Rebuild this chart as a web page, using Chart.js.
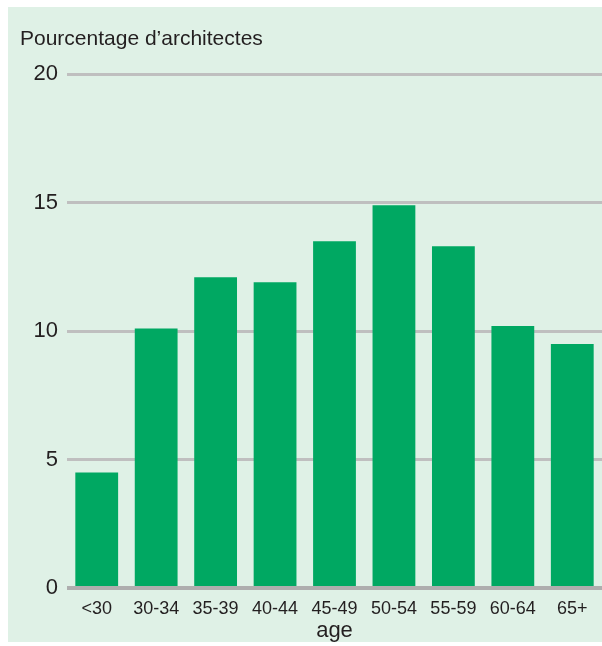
<!DOCTYPE html>
<html>
<head>
<meta charset="utf-8">
<script src="https://cdn.jsdelivr.net/npm/chart.js@4/dist/chart.umd.min.js"></script>
<style>
html,body{margin:0;padding:0;background:#fff;}
#wrap{width:602px;height:646px;position:relative;}
</style>
</head>
<body>
<div id="wrap"><canvas id="c" width="602" height="646"></canvas></div>
<script>
const categories = ["<30","30-34","35-39","40-44","45-49","50-54","55-59","60-64","65+"];
const percentages = [4.5, 10.1, 12.1, 11.9, 13.5, 14.9, 13.3, 10.2, 9.5];
const yTicks = [0, 5, 10, 15, 20];
const yTitle = "Pourcentage d\u2019architectes";
const xTitle = "age";

const FONT = "'Liberation Sans', Arial, Helvetica, sans-serif";
const TEXT = "#231f20";

const panelBg = {
  id: 'panelBg',
  beforeDraw(chart) {
    const ctx = chart.ctx;
    ctx.save();
    ctx.fillStyle = '#dff1e6';
    ctx.fillRect(8, 7, chart.width - 8, chart.height - 11);
    ctx.restore();
  }
};

new Chart(document.getElementById('c'), {
  type: 'bar',
  data: {
    labels: categories,
    datasets: [{
      data: percentages,
      backgroundColor: '#00a862',
      borderWidth: 0,
      barPercentage: 0.72,
      categoryPercentage: 1.0
    }]
  },
  options: {
    responsive: false,
    animation: false,
    devicePixelRatio: 1,
    layout: { padding: { left: 20, right: 0, top: 0, bottom: 2 } },
    plugins: {
      legend: { display: false },
      tooltip: { enabled: false },
      title: {
        display: true,
        text: yTitle,
        align: 'start',
        color: TEXT,
        font: { family: FONT, size: 21, weight: 'normal', lineHeight: 1.2 },
        padding: { top: 27, bottom: 22 }
      }
    },
    scales: {
      x: {
        grid: { display: false, drawTicks: false },
        border: { display: false },
        ticks: { color: TEXT, font: { family: FONT, size: 18 }, padding: 10, maxRotation: 0, autoSkip: false },
        title: { display: true, text: xTitle, color: TEXT, font: { family: FONT, size: 22, lineHeight: 1.2 }, padding: { top: 0, bottom: 0 } },
        afterFit(scale) { scale.height = 56; }
      },
      y: {
        min: 0,
        max: 20,
        afterBuildTicks(scale) { scale.ticks = yTicks.map(v => ({ value: v })); },
        grid: {
          drawTicks: false,
          color: ctx => ctx.tick && ctx.tick.value === 0 ? '#aeaeae' : '#bfbfbf',
          lineWidth: ctx => ctx.tick && ctx.tick.value === 0 ? 4 : 3
        },
        border: { display: false },
        ticks: { color: TEXT, font: { family: FONT, size: 22 }, padding: 9 },
        afterFit(scale) { scale.width = 47; }
      }
    }
  },
  plugins: [panelBg]
});
</script>
</body>
</html>
